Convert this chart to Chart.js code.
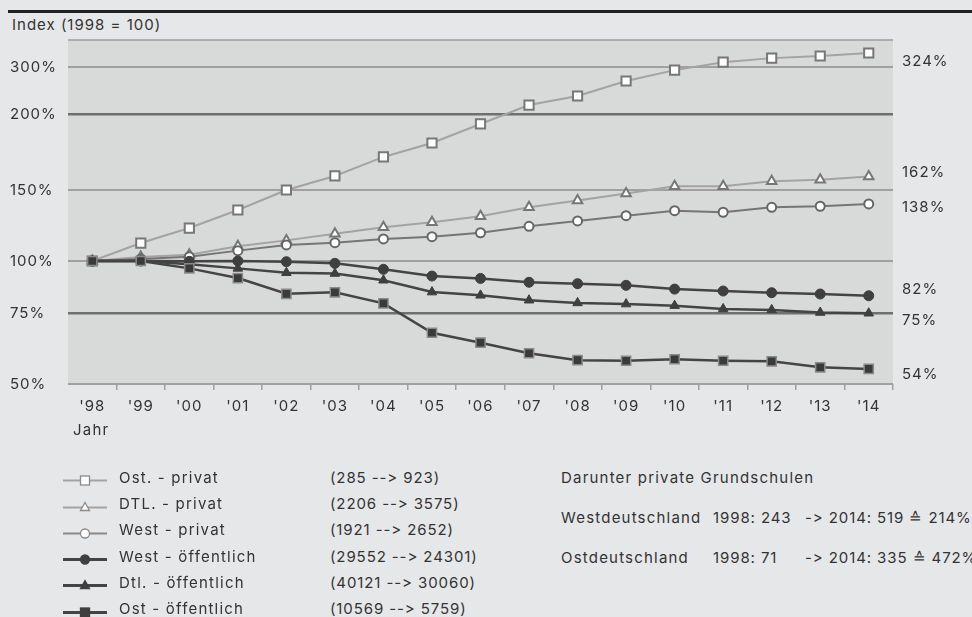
<!DOCTYPE html>
<html>
<head>
<meta charset="utf-8">
<script src="https://cdn.jsdelivr.net/npm/chart.js@4.4.0/dist/chart.umd.min.js"></script>
<style>
  body { margin: 0; background: #e6e7e9; font-family: Inter, "Open Sans", sans-serif; color: #333;
         font-feature-settings: "calt" 0, "liga" 0; font-variant-ligatures: none; }
  #page { position: relative; width: 972px; height: 617px; overflow: hidden; }
  #topbar { position: absolute; left: 8px; top: 10px; width: 964px; height: 3px; background: #222; }
  #indexTitle { position: absolute; left: 12px; top: 16px; font-size: 15px; line-height: 18px; letter-spacing: 1px; }
  #chartBox { position: absolute; left: 0; top: 0; width: 972px; height: 440px; }
  #jahr { position: absolute; left: 73px; top: 421px; font-size: 15px; line-height: 18px; letter-spacing: 1.2px; }
  .txt { position: absolute; font-size: 15px; line-height: 18px; white-space: nowrap; letter-spacing: 1.2px; }
  .num { letter-spacing: 0.9px; }
  .icon { position: absolute; }
</style>
</head>
<body>
<div id="page">
  <div id="topbar"></div>
  <div id="indexTitle">Index (1998 = 100)</div>
  <div id="chartBox"><canvas id="chart"></canvas></div>
  <div id="jahr">Jahr</div>
  <div id="legend"></div>
</div>
<script>
// Data (index, 1998 = 100)
const years = ["'98", "'99", "'00", "'01", "'02", "'03", "'04", "'05", "'06", "'07", "'08", "'09", "'10", "'11", "'12", "'13", "'14"];
const ostPrivat = [100, 110.8, 120.7, 133.8, 150, 158.2, 170, 179.2, 192.6, 216, 233.6, 265.9, 292, 308, 315, 318.7, 324];
const dtlPrivat = [100, 102.3, 103.7, 108.8, 112.5, 116.9, 121.2, 124.7, 129.1, 135.9, 141.2, 147, 152.1, 152.1, 155, 156, 157.8];
const westPrivat = [100, 101.2, 102.5, 106.1, 109.6, 111, 113.4, 114.9, 117.5, 121.9, 125.7, 129.5, 133.3, 132.1, 135.9, 136.7, 138.5];
const westOeff = [100, 100, 99.8, 100, 99.6, 98.7, 95.5, 92, 90.8, 88.9, 88.2, 87.4, 85.6, 84.7, 83.9, 83.3, 82.5];
const dtlOeff = [100, 100, 98.2, 96, 93.7, 93.3, 89.9, 84.2, 82.7, 80.5, 79.3, 78.8, 78.1, 76.7, 76.3, 75.2, 74.9];
const ostOeff = [100, 100, 96, 91, 83.4, 84.1, 79.1, 67, 63.3, 59.6, 57.3, 57.1, 57.6, 57.1, 56.9, 55, 54.5];

const seriesNames = ["Ost. - privat", "DTL. - privat", "West - privat", "West - öffentlich", "Dtl. - öffentlich", "Ost - öffentlich"];
const seriesRanges = ["(285 --> 923)", "(2206 --> 3575)", "(1921 --> 2652)", "(29552 --> 24301)", "(40121 --> 30060)", "(10569 --> 5759)"];

const yTicks = [50, 75, 100, 150, 200, 300];
const endLabelValues = [324, 162, 138, 82, 75, 54];

const grundschulen = [
  ["Westdeutschland", "1998: 243", "-> 2014: 519 \u2259 214%"],
  ["Ostdeutschland", "1998: 71", "-> 2014: 335 \u2259 472%"]
];

// y axis of the original is piecewise logarithmic between these values
const knotVals = [50, 75, 100, 150, 200, 300, 348];
const knotPos = [0, 71, 123, 194, 270, 317, 344].map(p => p / 344);

function valueToDecimal(v) {
  let i = 0;
  while (i < knotVals.length - 2 && v > knotVals[i + 1]) i++;
  const t = Math.log(v / knotVals[i]) / Math.log(knotVals[i + 1] / knotVals[i]);
  return knotPos[i] + t * (knotPos[i + 1] - knotPos[i]);
}
function decimalToValue(d) {
  let i = 0;
  while (i < knotPos.length - 2 && d > knotPos[i + 1]) i++;
  const t = (d - knotPos[i]) / (knotPos[i + 1] - knotPos[i]);
  return knotVals[i] * Math.pow(knotVals[i + 1] / knotVals[i], t);
}

class PiecewiseScale extends Chart.LinearScale {
  getPixelForValue(value) {
    return this.getPixelForDecimal(valueToDecimal(value));
  }
  getValueForPixel(pixel) {
    return decimalToValue(this.getDecimalForPixel(pixel));
  }
}
PiecewiseScale.id = "piecewise";
PiecewiseScale.defaults = Chart.LinearScale.defaults;
Chart.register(PiecewiseScale);

Chart.defaults.font.family = "Inter, 'Open Sans', sans-serif";
Chart.defaults.font.size = 15;
Chart.defaults.color = "#333";

// plot background + end labels
const plotBackground = {
  id: "plotBackground",
  beforeDraw(chart) {
    const { ctx, chartArea } = chart;
    ctx.letterSpacing = "1px";
    ctx.save();
    ctx.fillStyle = "#d8d9d9";
    ctx.fillRect(chartArea.left, chartArea.top, chartArea.right - chartArea.left, chartArea.bottom - chartArea.top);
    ctx.strokeStyle = "#9c9c9c";
    ctx.lineWidth = 1.5;
    ctx.beginPath();
    ctx.moveTo(chartArea.left, chartArea.top);
    ctx.lineTo(chartArea.right, chartArea.top);
    ctx.stroke();
    ctx.restore();
  }
};

const endLabelOffsets = [8, 3, 2.5, -7, 7, 3.5];
const endLabels = {
  id: "endLabels",
  afterDraw(chart) {
    const { ctx } = chart;
    const y = chart.scales.y;
    ctx.save();
    ctx.font = "15px Inter, 'Open Sans', sans-serif";
    ctx.fillStyle = "#333";
    ctx.textAlign = "left";
    ctx.textBaseline = "middle";
    endLabelValues.forEach((v, i) => {
      ctx.fillText(v + "%", chart.chartArea.right + 9, y.getPixelForValue(v) + endLabelOffsets[i]);
    });
    ctx.restore();
  }
};

const lightLine = "#a3a3a3";
const darkLine = "#444";

const datasets = [
  { label: seriesNames[0], data: ostPrivat, borderColor: lightLine, borderWidth: 2, pointStyle: "rect", pointRadius: 6.5,
    pointBackgroundColor: "#fff", pointBorderColor: "#777", pointBorderWidth: 2, order: 6 },
  { label: seriesNames[1], data: dtlPrivat, borderColor: lightLine, borderWidth: 2, pointStyle: "triangle", pointRadius: 5.5,
    pointBackgroundColor: "#fff", pointBorderColor: "#777", pointBorderWidth: 2, order: 5 },
  { label: seriesNames[2], data: westPrivat, borderColor: "#757575", borderWidth: 2, pointStyle: "circle", pointRadius: 4.5,
    pointBackgroundColor: "#fff", pointBorderColor: "#666", pointBorderWidth: 2, order: 4 },
  { label: seriesNames[3], data: westOeff, borderColor: darkLine, borderWidth: 2.5, pointStyle: "circle", pointRadius: 5,
    pointBackgroundColor: "#3f3f3f", pointBorderColor: "#3f3f3f", pointBorderWidth: 1, order: 3 },
  { label: seriesNames[4], data: dtlOeff, borderColor: darkLine, borderWidth: 2.5, pointStyle: "triangle", pointRadius: 5.5,
    pointBackgroundColor: "#3f3f3f", pointBorderColor: "#3f3f3f", pointBorderWidth: 1, order: 2 },
  { label: seriesNames[5], data: ostOeff, borderColor: darkLine, borderWidth: 2.5, pointStyle: "rect", pointRadius: 6.5,
    pointBackgroundColor: "#3a3a3a", pointBorderColor: "#8a8a8a", pointBorderWidth: 1.5, order: 1 }
];

new Chart(document.getElementById("chart"), {
  type: "line",
  data: { labels: years, datasets: datasets },
  options: {
    responsive: true,
    maintainAspectRatio: false,
    animation: false,
    layout: { padding: { left: 10, top: 40, right: 79, bottom: 0 } },
    plugins: { legend: { display: false }, tooltip: { enabled: false } },
    scales: {
      x: {
        type: "category",
        offset: true,
        border: { display: false },
        grid: {
          offset: true,
          drawOnChartArea: false,
          tickLength: 6,
          lineWidth: 1.5,
          color: (ctx) => (ctx.index === 0 ? "rgba(0,0,0,0)" : "#a0a0a0")
        },
        ticks: { padding: 7, maxRotation: 0, autoSkip: false, color: "#333" },
        afterFit: (scale) => { scale.height = 56; }
      },
      y: {
        type: "piecewise",
        min: 50,
        max: 348,
        border: { display: false },
        grid: {
          drawTicks: false,
          color: (ctx) => {
            const v = ctx.tick ? ctx.tick.value : 0;
            if (v === 75 || v === 200) return "#6f6f6f";
            return "#a0a0a0";
          },
          lineWidth: (ctx) => {
            const v = ctx.tick ? ctx.tick.value : 0;
            return (v === 75 || v === 200) ? 2.5 : 2;
          }
        },
        ticks: { crossAlign: "far", color: "#333", callback: (v) => v + "%" },
        afterBuildTicks: (scale) => { scale.ticks = yTicks.map(v => ({ value: v })); },
        afterFit: (scale) => { scale.width = 58; }
      }
    }
  },
  plugins: [plotBackground, endLabels]
});

// Legend below the chart
const legend = document.getElementById("legend");
const markerShapes = ["rect", "triangle", "circle", "circle", "triangle", "rect"];

function iconSvg(i) {
  const priv = i < 3;
  const line = priv ? (i === 2 ? "#8a8a8a" : "#a3a3a3") : "#444";
  const lw = priv ? 2 : 3;
  const fill = priv ? "#fff" : "#3f3f3f";
  const stroke = priv ? "#8a8a8a" : "#3f3f3f";
  let marker = "";
  if (markerShapes[i] === "rect") {
    marker = `<rect x="17.5" y="2" width="9" height="9" fill="${fill}" stroke="${stroke}" stroke-width="1.3"/>`;
  } else if (markerShapes[i] === "triangle") {
    marker = `<polygon points="22,1.5 26.5,9.5 17.5,9.5" fill="${fill}" stroke="${stroke}" stroke-width="1.3"/>`;
  } else {
    marker = `<circle cx="22" cy="6.5" r="4.5" fill="${fill}" stroke="${stroke}" stroke-width="1.3"/>`;
  }
  return `<svg width="44" height="13"><line x1="0" y1="6.5" x2="44" y2="6.5" stroke="${line}" stroke-width="${lw}"/>${marker}</svg>`;
}

seriesNames.forEach((name, i) => {
  const cy = 477.7 + i * 26.3;
  legend.insertAdjacentHTML("beforeend",
    `<div class="icon" style="left:63px;top:${cy - 6.5}px">${iconSvg(i)}</div>` +
    `<div class="txt" style="left:119px;top:${cy - 9}px">${name}</div>` +
    `<div class="txt num" style="left:330px;top:${cy - 9}px">${seriesRanges[i]}</div>`);
});

legend.insertAdjacentHTML("beforeend", `<div class="txt" style="left:561px;top:${477.7 - 9}px">Darunter private Grundschulen</div>`);
grundschulen.forEach((row, i) => {
  const top = 518 + i * 40 - 9;
  legend.insertAdjacentHTML("beforeend",
    `<div class="txt" style="left:561px;top:${top}px">${row[0]}</div>` +
    `<div class="txt num" style="left:713px;top:${top}px">${row[1]}</div>` +
    `<div class="txt num" style="left:805px;top:${top}px">${row[2]}</div>`);
});
</script>
</body>
</html>
